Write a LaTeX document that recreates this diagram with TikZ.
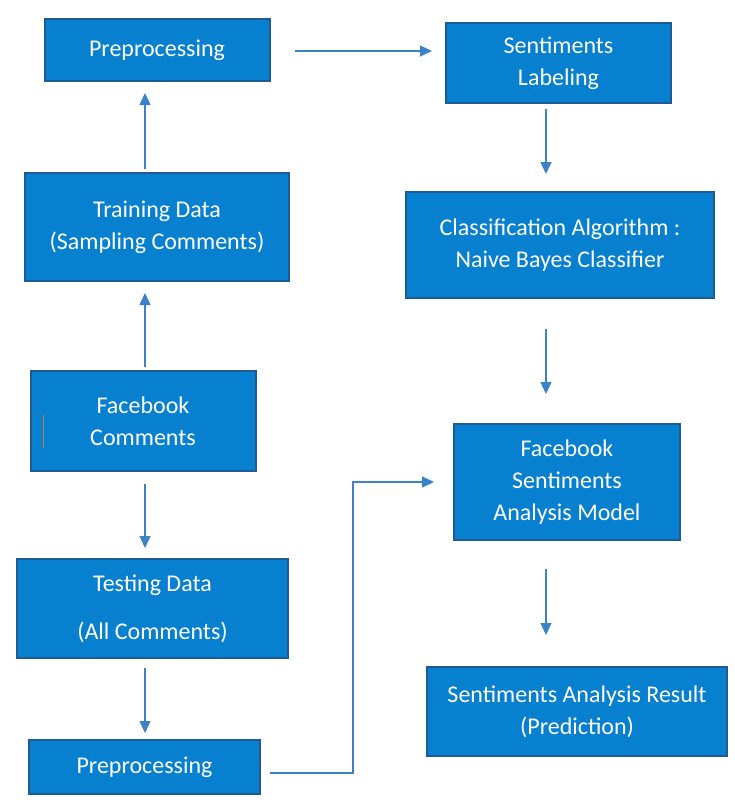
\documentclass[tikz,border=0pt]{standalone}
\usepackage{fontspec}
\setmainfont{Carlito}
\usetikzlibrary{arrows.meta}
\definecolor{blue1}{RGB}{8,128,208}
\definecolor{blue2}{RGB}{30,90,150}
\definecolor{blue3}{RGB}{60,130,200}
\definecolor{orange1}{RGB}{200,120,60}
\tikzset{
  stage/.style={draw=blue2, line width=2pt, fill=blue1, text=white, align=center,
    inner sep=0pt, font=\fontsize{24}{32}\selectfont},
  flow/.style={draw=blue3, line width=1.3pt, -{Triangle[length=12pt,width=11pt]}}
}
\begin{document}
\begin{tikzpicture}[x=1pt,y=-1pt]
\useasboundingbox (0,0) rectangle (734,809);
% boxes
\node[stage, minimum width=225, minimum height=62] (pre1) at (157,50) {Preprocessing};
\node[stage, minimum width=225, minimum height=80] (lab) at (558.5,63) {Sentiments\\Labeling};
\node[stage, minimum width=264, minimum height=108] (train) at (157,227) {Training Data\\(Sampling Comments)};
\node[stage, minimum width=308, minimum height=106] (cls) at (560,245) {Classification Algorithm :\\Naive Bayes Classifier};
\node[stage, minimum width=225, minimum height=100] (fc) at (143,421) {Facebook\\Comments};
\node[stage, minimum width=226, minimum height=116] (fsam) at (567,482) {Facebook\\Sentiments\\Analysis Model};
\node[stage, minimum width=271, minimum height=99] (test) at (152.5,608.5) {Testing Data\\[16pt](All Comments)};
\node[stage, minimum width=300, minimum height=89] (res) at (577,711.5) {Sentiments Analysis Result\\(Prediction)};
\node[stage, minimum width=231, minimum height=54] (pre2) at (144.5,767) {Preprocessing};
\draw[orange1, line width=1pt] (43,415) -- (43,448);
% arrows
\coordinate (lcol) at (145,0);
\coordinate (rcol) at (546,0);
\coordinate (elbow) at (353,773);
\draw[flow, shorten <=24, shorten >=13] ([yshift=-1]pre1.east) -- ([yshift=-1]pre1.east -| lab.west);
\draw[flow, shorten <=3, shorten >=11] (train.north -| lcol) -- (pre1.south -| lcol);
\draw[flow, shorten <=3, shorten >=11] (fc.north -| lcol) -- (train.south -| lcol);
\draw[flow, shorten <=12, shorten >=10] (fc.south -| lcol) -- (test.north -| lcol);
\draw[flow, shorten <=9, shorten >=6] (test.south -| lcol) -- (pre2.north -| lcol);
\draw[flow, shorten <=5, shorten >=17] (lab.south -| rcol) -- (cls.north -| rcol);
\draw[flow, shorten <=30, shorten >=29] (cls.south -| rcol) -- (fsam.north -| rcol);
\draw[flow, shorten <=28, shorten >=31] (fsam.south -| rcol) -- (res.north -| rcol);
\draw[flow, shorten <=9, shorten >=19] (pre2.east |- elbow) -- (elbow) |- (fsam.west);
\end{tikzpicture}
\end{document}
